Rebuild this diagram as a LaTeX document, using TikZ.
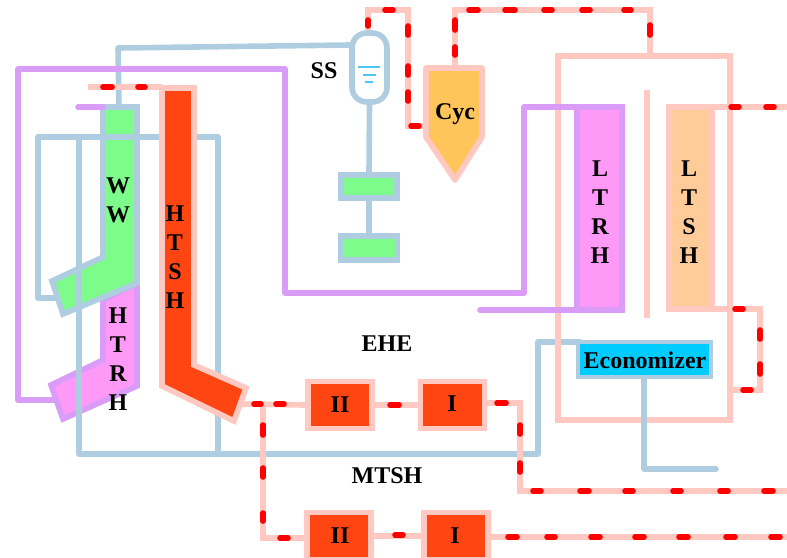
\documentclass[tikz,border=0pt]{standalone}
\usepackage{fontspec}
\setmainfont{Liberation Serif}
\definecolor{pinkline}{HTML}{FFC8C0}
\definecolor{redline}{HTML}{FF0000}
\definecolor{blueline}{HTML}{AECDE0}
\definecolor{purpline}{HTML}{D99CF7}
\definecolor{wwgreen}{HTML}{7DFB8B}
\definecolor{rhpink}{HTML}{FF99F7}
\definecolor{shred}{HTML}{FF4612}
\definecolor{ecocyan}{HTML}{00CCFF}
\definecolor{ltshfill}{HTML}{FFCC99}
\definecolor{cycfill}{HTML}{FFC55A}
\tikzset{
  px/.style={x=0.75pt,y=-0.75pt},
  bluepipe/.style={draw=blueline,line width=4.2pt,line join=round,line cap=round},
  purppipe/.style={draw=purpline,line width=4.2pt,line join=round,line cap=round},
  pinkpipe/.style={draw=pinkline,line width=4.2pt,line join=miter},
  reddash/.style={draw=redline,line width=4.2pt,line cap=round},
  lab/.style={font=\fontsize{18}{21.75}\selectfont\bfseries,text=black,align=center,inner sep=0pt},
  bank/.style={draw=pinkline,fill=shred,line width=4.2pt,inner sep=0pt,minimum width=48.4pt,minimum height=35.2pt},
  econ/.style={draw=blueline,fill=wwgreen,line width=4.2pt,inner sep=0pt,minimum width=42pt,minimum height=17pt},
}
\newcommand{\dashH}[2]{\foreach \a/\b in {#2}{\draw[reddash] (\a,#1)--(\b,#1);}}
\newcommand{\dashV}[2]{\foreach \a/\b in {#2}{\draw[reddash] (#1,\a)--(#1,\b);}}
\begin{document}
\begin{tikzpicture}[px]
\useasboundingbox (0,0) rectangle (787,557);
\clip (0,0) rectangle (787,557);
% junction coordinates
\coordinate (drumL) at (352,45);
\coordinate (wwTop) at (119,107);
\coordinate (ltrhTL) at (577,107);
\coordinate (ltrhBR) at (622,310);
\coordinate (ltshTR) at (712,107);
\coordinate (ltshBR) at (712,309);
\coordinate (htshTail) at (241,404);
\coordinate (branch) at (263,404);
\coordinate (cycL) at (426,126);
\coordinate (cycT) at (455,68);
\coordinate (backTop) at (650,56);
\coordinate (endA) at (787,107);
\coordinate (endB) at (787,491);
\coordinate (endC) at (787,537);
\coordinate (rhTail) at (55,400);
\coordinate (wwTail) at (56,298);
% furnace water wall and reheater
\draw[draw=purpline,fill=rhpink,line width=4.2pt,line join=miter]
  (137,283)--(137,386)--(63,419)--(51,385)--(103,360)--(103,300)--cycle;
\draw[draw=blueline,fill=wwgreen,line width=4.2pt,line join=miter]
  (103,107)--(137,107)--(137,283)--(63,314)--(52,281)--(103,257)--cycle;
% steam separator
\node[draw=blueline,fill=white,line width=4.2pt,rounded corners=11pt,minimum width=26.2pt,minimum height=51.7pt,inner sep=0pt] (ss) at (369.5,67.5) {};
\draw[cyan!70!white,line width=1.4pt] (358,67)--(380,67) (363,75)--(376,75) (365,82)--(373,82);
% blue pipes
\draw[bluepipe] (ss.west |- drumL) -- (118,48) -- (wwTop);
\node[econ] (e1) at (369,186.5) {};
\node[econ,minimum width=43pt,minimum height=18pt] (e2) at (369,248) {};
\draw[bluepipe] (ss.south) -- (e1.north);
\draw[bluepipe] (e1.south) -- (e2.north);
\draw[bluepipe] (wwTail) -- (38,298) -- (38,137) -- (218,137) -- (218,454) -- (79,454) -- (79,137);
\draw[bluepipe] (218,454) -- (538,454) -- (538,342) -- (580,342);
% purple pipes
\draw[pinkpipe] (558,420) rectangle (730,56);
\draw[pinkpipe] (647,90) -- (647,318);
\draw[purppipe] (rhTail) -- (18,400) -- (18,69) -- (285,69) -- (285,293) -- (524,293) -- (524,107) -- (ltrhTL);
\draw[purppipe] (78,107) -- (103,107);
\draw[purppipe] (480,310) -- (ltrhBR);
% back pass
\node[draw=purpline,fill=rhpink,line width=4.2pt,inner sep=0pt,minimum width=33.8pt,minimum height=152.2pt] (ltrh) at (599.5,208.5) {};
\node[draw=pinkline,fill=ltshfill,line width=4.2pt,inner sep=0pt,minimum width=32.2pt,minimum height=151.5pt] (ltsh) at (690.5,208) {};
\node[draw=blueline,fill=ecocyan,line width=3pt,inner sep=0pt,minimum width=99.4pt,minimum height=26.2pt] (eco) at (644.7,359.5) {};
\draw[bluepipe] (eco.south -| 644,0) -- (644,469) -- (716,469);
% steam lines
\draw[pinkpipe] (88,87) -- (162,87);
\draw[pinkpipe] (ss.north -| 368,0) -- (368,10) -- (408,10) -- (408,126) -- (cycL);
\draw[pinkpipe] (cycT) -- (455,10) -- (650,10) -- (backTop);
\draw[pinkpipe] (ltshTR) -- (endA);
\draw[pinkpipe] (ltshBR) -- (760,309) -- (760,390) -- (730,390);
% cyclone
\draw[draw=pinkline,fill=cycfill,line width=4.2pt,line join=round] (426,68)--(482,68)--(482,137)--(455,180)--(426,137)--cycle;
% high temperature superheater
\draw[draw=pinkline,fill=shred,line width=4.2pt,line join=miter]
  (162,88)--(194,88)--(194,365)--(246,388)--(234,421)--(162,386)--cycle;
% banks
\node[bank] (iiU) at (340,405) {};
\node[bank,minimum width=48pt] (iU) at (452.5,405) {};
\node[bank] (iiL) at (339,536) {};
\node[bank,minimum width=48pt] (iL) at (456,536) {};
\draw[pinkpipe] (htshTail) -- (iiU.west);
\draw[pinkpipe] (iiU.east) -- (iU.west);
\draw[pinkpipe] (iU.east |- 0,403) -- (520,403) -- (520,491) -- (endB);
\draw[pinkpipe] (branch) -- (263,538) -- (iiL.west |- 0,538);
\draw[pinkpipe] (iiL.east) -- (iL.west);
\draw[pinkpipe] (iL.east |- 0,537) -- (endC);
% red dashes
\dashH{87}{103/112,138/145}
\dashH{10}{385/393,469/478,505/515,544/552,582/590,624/631}
\dashV{368}{20/26}
\dashV{408}{26/35,66/75,92/101}
\dashH{126}{411/419}
\dashV{455}{20/30,47/55}
\dashV{650}{25/35}
\dashH{107}{731/739,766/774}
\dashH{309}{735/743}
\dashV{760}{330/339,364/374}
\dashH{390}{743/751}
\dashH{404}{254/261,276/284}
\dashH{405}{390/399}
\dashH{403}{497/506}
\dashV{520}{425/434,463/472}
\dashH{491}{533/541,580/589,625/633,673/681,720/728,764/773}
\dashV{263}{425/435,468/477,513/521}
\dashH{538}{280/288}
\dashH{535}{395/403}
\dashH{537}{508/517,547/555,591/600,635/644,679/688,726/735,771/780}
% labels
\node[lab] (tWW) at (118,200) {W\\W};
\node[lab] (tHTSH) at (175,257) {H\\T\\S\\H};
\node[lab] (tHTRH) at (118,359) {H\\T\\R\\H};
\node[lab] (tLTRH) at (600,212) {L\\T\\R\\H};
\node[lab] (tLTSH) at (689,212) {L\\T\\S\\H};
\node[lab] (tSS) at (324,71) {SS};
\node[lab] (tCyc) at (455,114) {Cyc};
\node[lab] (tEHE) at (387,344) {EHE};
\node[lab] (tMTSH) at (387,476) {MTSH};
\node[lab] (tEco) at (645,360) {Economizer};
\node[lab] (tII1) at (340,405) {II};
\node[lab] (tI1) at (452,404) {I};
\node[lab] (tII2) at (340,536) {II};
\node[lab] (tI2) at (455,536) {I};
\end{tikzpicture}
\end{document}
